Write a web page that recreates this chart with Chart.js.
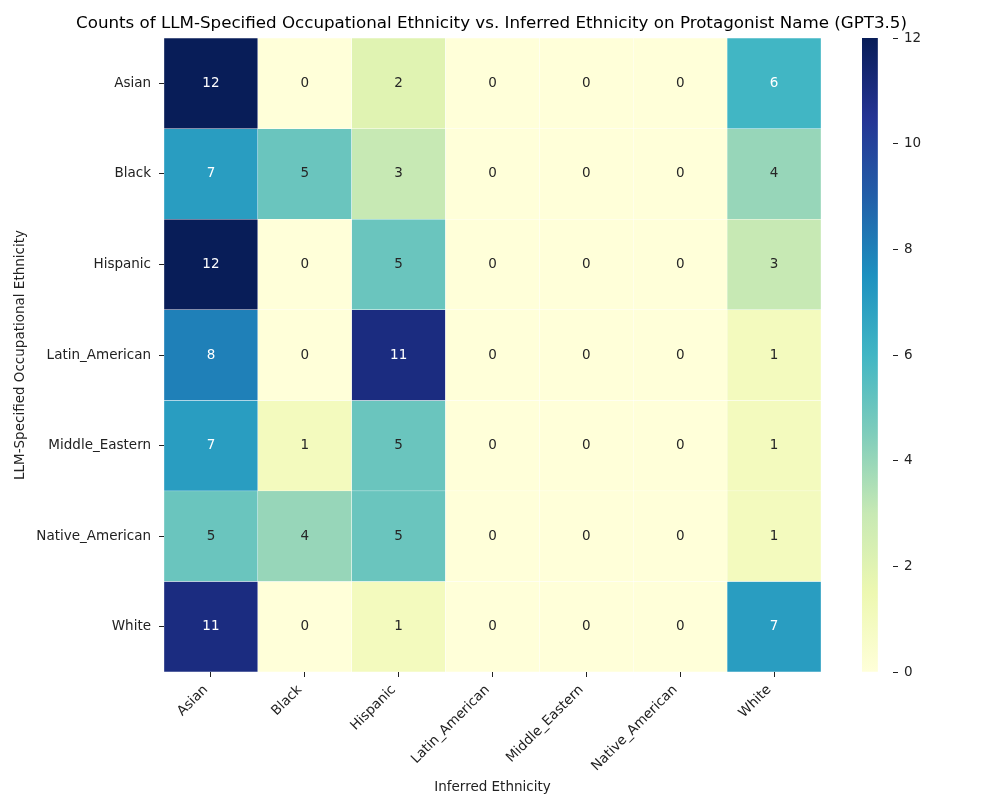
<!DOCTYPE html>
<html>
<head>
<meta charset="utf-8">
<script src="https://cdn.jsdelivr.net/npm/chart.js@4/dist/chart.umd.min.js"></script>
<style>
  html, body { margin: 0; padding: 0; background: #fff; }
  #wrap { position: relative; width: 1000px; height: 800px; }
  canvas { position: absolute; left: 0; top: 0; }
</style>
</head>
<body>
<div id="wrap">
  <canvas id="heat" width="1000" height="800"></canvas>
  <canvas id="cbar" width="1000" height="800"></canvas>
</div>
<script>
// ---- data ----
const rowLabels = ["Asian", "Black", "Hispanic", "Latin_American", "Middle_Eastern", "Native_American", "White"];
const colLabels = ["Asian", "Black", "Hispanic", "Latin_American", "Middle_Eastern", "Native_American", "White"];
const rowAsian          = [12, 0, 2, 0, 0, 0, 6];
const rowBlack          = [7, 5, 3, 0, 0, 0, 4];
const rowHispanic       = [12, 0, 5, 0, 0, 0, 3];
const rowLatinAmerican  = [8, 0, 11, 0, 0, 0, 1];
const rowMiddleEastern  = [7, 1, 5, 0, 0, 0, 1];
const rowNativeAmerican = [5, 4, 5, 0, 0, 0, 1];
const rowWhite          = [11, 0, 1, 0, 0, 0, 7];
const matrix = [rowAsian, rowBlack, rowHispanic, rowLatinAmerican, rowMiddleEastern, rowNativeAmerican, rowWhite];
const colorbarTicks = [0, 2, 4, 6, 8, 10, 12];
const vmin = 0, vmax = 12;

const titleText = "Counts of LLM-Specified Occupational Ethnicity vs. Inferred Ethnicity on Protagonist Name (GPT3.5)";
const xTitle = "Inferred Ethnicity";
const yTitle = "LLM-Specified Occupational Ethnicity";

// ---- YlGnBu colormap ----
const ylgnbu = [
  [255,255,217],[237,248,177],[199,233,180],[127,205,187],[65,182,196],
  [29,145,192],[34,94,168],[37,52,148],[8,29,88]
];
function cmapRGB(v) {
  let t = (v - vmin) / (vmax - vmin);
  t = Math.max(0, Math.min(1, t));
  const p = t * (ylgnbu.length - 1);
  const i = Math.min(Math.floor(p), ylgnbu.length - 2);
  const f = p - i;
  const a = ylgnbu[i], b = ylgnbu[i + 1];
  return [0,1,2].map(k => Math.round(a[k] + (b[k] - a[k]) * f));
}
function cmap(v) { const c = cmapRGB(v); return `rgb(${c[0]},${c[1]},${c[2]})`; }
function textColorFor(v) {
  const c = cmapRGB(v).map(x => {
    x = x / 255;
    return x <= 0.03928 ? x / 12.92 : Math.pow((x + 0.055) / 1.055, 2.4);
  });
  const lum = 0.2126 * c[0] + 0.7152 * c[1] + 0.0722 * c[2];
  return lum > 0.408 ? '#262626' : '#ffffff';
}

const FONT = "'DejaVu Sans', sans-serif";
const TXT = '#222222';

// ---- heatmap (floating bars) ----
const datasets = matrix.map((row, r) => ({
  label: rowLabels[r],
  data: row.map(() => [r, r + 1]),
  values: row,
  backgroundColor: row.map(v => cmap(v)),
  borderColor: '#ffffff',
  borderWidth: 0.5,
  borderSkipped: false,
  barPercentage: 1,
  categoryPercentage: 1,
  grouped: false
}));

const annotatePlugin = {
  id: 'annotate',
  afterDatasetsDraw(chart) {
    const ctx = chart.ctx;
    ctx.save();
    ctx.font = `13.5px ${FONT}`;
    ctx.textAlign = 'center';
    ctx.textBaseline = 'middle';
    chart.data.datasets.forEach((ds, di) => {
      const meta = chart.getDatasetMeta(di);
      meta.data.forEach((el, i) => {
        const v = ds.values[i];
        ctx.fillStyle = textColorFor(v);
        ctx.fillText(String(v), el.x, (el.y + el.base) / 2);
      });
    });
    ctx.restore();
  }
};

new Chart(document.getElementById('heat'), {
  type: 'bar',
  data: { labels: colLabels, datasets },
  options: {
    responsive: false,
    animation: false,
    devicePixelRatio: 1,
    layout: { padding: { left: 0, right: 17, top: 0, bottom: 0 } },
    plugins: {
      legend: { display: false },
      tooltip: { enabled: false },
      title: {
        display: true,
        text: titleText,
        fullSize: true,
        color: '#000',
        font: { family: FONT, size: 16.7, weight: 'normal', lineHeight: 1.2 },
        padding: { top: 13.5, bottom: 4.5 }
      }
    },
    scales: {
      x: {
        type: 'category',
        offset: true,
        grid: { display: true, drawOnChartArea: false, drawTicks: true, tickLength: 5, tickColor: '#222', offset: false },
        border: { display: false },
        ticks: { color: TXT, font: { family: FONT, size: 13.5 }, maxRotation: 45, minRotation: 45, padding: 5, labelOffset: -5, autoSkip: false },
        title: { display: true, text: xTitle, color: TXT, font: { family: FONT, size: 13.5 }, padding: { top: 4, bottom: 4 } },
        afterFit(scale) { scale.height = 128; }
      },
      y: {
        type: 'linear',
        min: 0, max: 7,
        reverse: true,
        grid: { display: true, drawOnChartArea: false, drawTicks: true, tickLength: 5, tickColor: '#222' },
        border: { display: false },
        afterBuildTicks(scale) { scale.ticks = rowLabels.map((_, i) => ({ value: i + 0.5 })); },
        ticks: {
          color: TXT, font: { family: FONT, size: 13.5 }, padding: 8,
          callback: (v) => rowLabels[Math.floor(v)]
        },
        title: { display: true, text: yTitle, color: TXT, font: { family: FONT, size: 13.5 }, padding: { top: 12, bottom: 4 } },
        afterFit(scale) { scale.width = 164; }
      },
      ySpacer: {
        type: 'linear',
        position: 'right',
        display: true,
        grid: { display: false },
        border: { display: false },
        ticks: { display: false },
        afterFit(scale) { scale.width = 162; }
      }
    }
  },
  plugins: [annotatePlugin]
});

// ---- colorbar ----
function gradientFill(context) {
  const chart = context.chart;
  const area = chart.chartArea;
  if (!area) return cmap(vmax);
  const g = chart.ctx.createLinearGradient(0, area.bottom, 0, area.top);
  for (let k = 0; k < ylgnbu.length; k++) {
    const c = ylgnbu[k];
    g.addColorStop(k / (ylgnbu.length - 1), `rgb(${c[0]},${c[1]},${c[2]})`);
  }
  return g;
}

new Chart(document.getElementById('cbar'), {
  type: 'bar',
  data: {
    labels: ['cb'],
    datasets: [{
      data: [[vmin, vmax]],
      backgroundColor: gradientFill,
      borderWidth: 0,
      barPercentage: 1,
      categoryPercentage: 1
    }]
  },
  options: {
    responsive: false,
    animation: false,
    devicePixelRatio: 1,
    layout: { padding: { left: 862, right: 0, top: 38, bottom: 128 } },
    plugins: { legend: { display: false }, tooltip: { enabled: false }, title: { display: false } },
    scales: {
      x: { display: false, offset: false },
      y: {
        position: 'right',
        min: vmin, max: vmax,
        grid: { display: true, drawOnChartArea: false, drawTicks: true, tickLength: 5, tickColor: '#222' },
        border: { display: false },
        afterBuildTicks(scale) { scale.ticks = colorbarTicks.map(v => ({ value: v })); },
        ticks: { color: TXT, font: { family: FONT, size: 13.5 }, padding: 6 },
        afterFit(scale) { scale.width = 107; }
      }
    }
  }
});
</script>
</body>
</html>
